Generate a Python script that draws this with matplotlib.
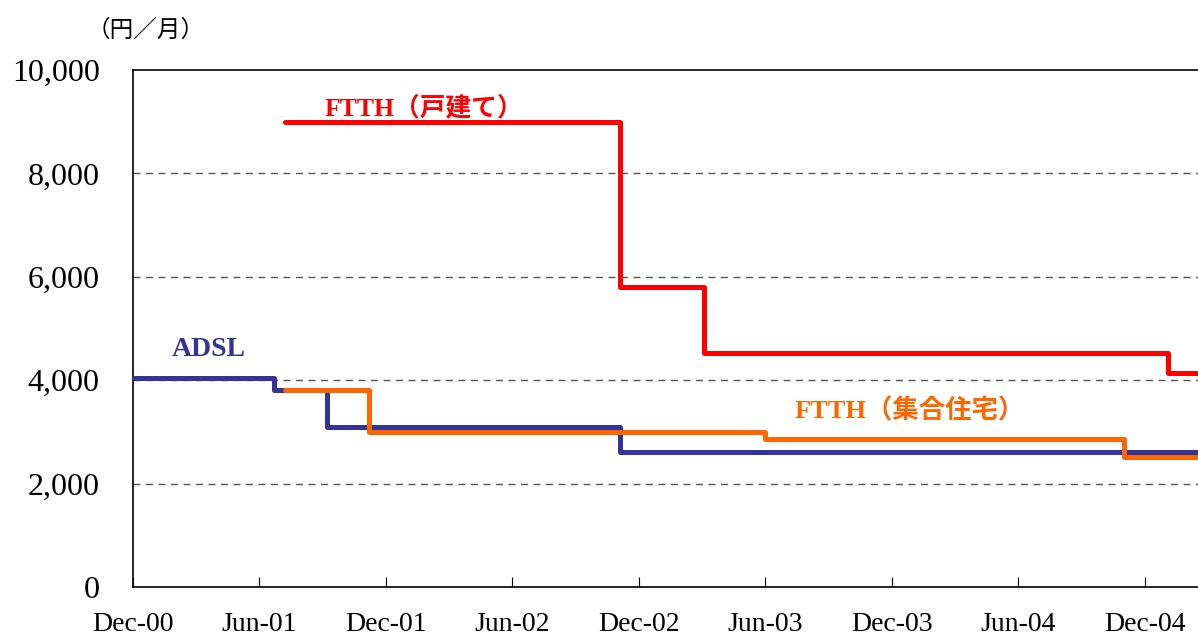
import matplotlib
matplotlib.use("Agg")
import matplotlib.pyplot as plt

# Months counted from Dec-00 (0 = Dec-00)
tick_pos = [0, 6, 12, 18, 24, 30, 36, 42, 48]
tick_labels = ["Dec-00", "Jun-01", "Dec-01", "Jun-02", "Dec-02",
               "Jun-03", "Dec-03", "Jun-04", "Dec-04"]
y_ticks = [0, 2000, 4000, 6000, 8000, 10000]
y_tick_labels = ["0", "2,000", "4,000", "6,000", "8,000", "10,000"]

x_end = 52

# Step series: change points (month) and value from that point on
ftth_house_x = [7.2, 23.1, 27.1, 49.1]
ftth_house_y = [9000, 5800, 4530, 4140]

adsl_x = [0, 6.7, 9.2, 23.1]
adsl_y = [4040, 3810, 3090, 2610]

ftth_apt_x = [7.2, 11.2, 30.0, 47.0]
ftth_apt_y = [3810, 3000, 2860, 2510]

serif = ["Liberation Serif", "Noto Sans CJK JP"]
cjk = ["Noto Sans CJK JP", "Liberation Serif"]

fig = plt.figure(figsize=(11.98, 6.40), dpi=100)
ax = fig.add_axes([133 / 1198, 53 / 640, (1229 - 133) / 1198, (587 - 70) / 640])


def step_xy(xs, ys, end):
    px, py = [], []
    for i, (x, y) in enumerate(zip(xs, ys)):
        nx = xs[i + 1] if i + 1 < len(xs) else end
        px += [x, nx]
        py += [y, y]
    return px, py


for xs, ys, c in [(adsl_x, adsl_y, "#333399"),
                  (ftth_apt_x, ftth_apt_y, "#FF6600"),
                  (ftth_house_x, ftth_house_y, "#FF0000")]:
    px, py = step_xy(xs, ys, x_end)
    ax.plot(px, py, color=c, lw=3.6, solid_joinstyle="round",
            solid_capstyle="round", zorder=3)

ax.set_xlim(0, x_end)
ax.set_ylim(0, 10000)
for y in [2000, 4000, 6000, 8000]:
    ax.axhline(y, color="#555555", lw=1.0, ls=(0, (5, 4)), zorder=1)

ax.set_xticks(tick_pos)
ax.set_xticklabels(tick_labels, fontfamily=serif, fontsize=20)
ax.set_yticks(y_ticks)
ax.set_yticklabels(y_tick_labels, fontfamily=serif, fontsize=23)
ax.tick_params(axis="x", direction="in", length=7, width=0.8, pad=18)
ax.tick_params(axis="y", length=0, pad=24)
for s in ["left", "bottom", "top", "right"]:
    ax.spines[s].set_linewidth(1.2)

ax.text(9.1, 9270, "FTTH（戸建て）", color="#FF0000", fontsize=18.5,
        fontweight="bold", family=serif, ha="left", va="center")
ax.text(1.85, 4600, "ADSL", color="#333399", fontsize=20,
        fontweight="bold", family=serif, ha="left", va="center")
ax.text(31.4, 3410, "FTTH（集合住宅）", color="#FF6600", fontsize=19,
        fontweight="bold", family=serif, ha="left", va="center")

fig.text(87 / 1198, 1 - 30 / 640, "（円／月）", family=cjk, fontsize=17,
         ha="left", va="center")

fig.savefig("out.png", dpi=100)
